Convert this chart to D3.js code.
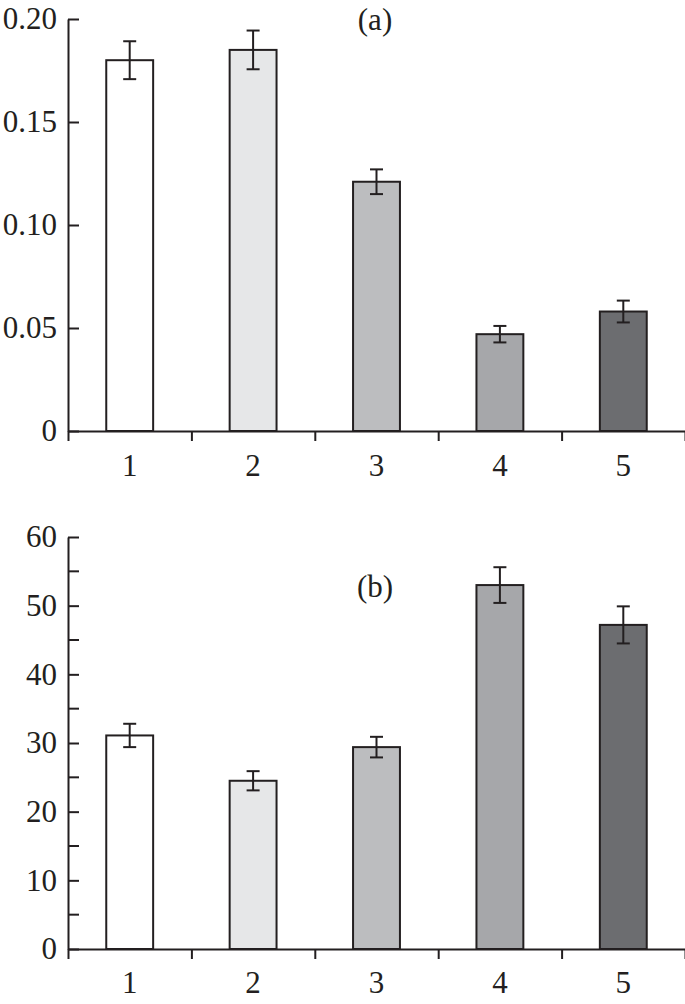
<!DOCTYPE html>
<html>
<head>
<meta charset="utf-8">
<script src="https://cdn.jsdelivr.net/npm/d3@7"></script>
<style>
  body { margin: 0; background: #fff; }
  svg { display: block; }
  text { font-family: "Liberation Serif", "Times New Roman", serif; fill: #231f20; }
</style>
</head>
<body>
<script>
var categories = ['1', '2', '3', '4', '5'];
var barColors = ['#ffffff', '#e6e7e8', '#bcbdbf', '#a6a7aa', '#6c6d70'];

var valuesA = [0.180, 0.185, 0.121, 0.047, 0.058];
var errorsA = [0.0092, 0.0094, 0.006, 0.004, 0.0053];
var ticksA = [0, 0.05, 0.10, 0.15, 0.20];

var valuesB = [31.1, 24.5, 29.4, 53.0, 47.2];
var errorsB = [1.7, 1.4, 1.5, 2.6, 2.7];
var ticksB = [0, 10, 20, 30, 40, 50, 60];
var minorTicksB = [5, 15, 25, 35, 45, 55];

var svgWidth = 685;
var svgHeight = 1004;
var ink = '#231f20';
var fontSize = 31;

var svg = d3.select('body').append('svg').attr('width', svgWidth).attr('height', svgHeight);

function drawPanel(opts) {
    var g = svg.append('g');

    var x = d3.scaleBand().domain(categories).range([68, 685])
        .paddingInner(0.62).paddingOuter(0.31);
    var xEdges = d3.scaleLinear().domain([0, categories.length]).range([68, 685]);
    var y = d3.scaleLinear().domain([0, opts.max]).range([opts.bottom, opts.top]);

    // bars
    g.selectAll('rect.bar')
        .data(opts.values)
        .enter()
        .append('rect')
        .attr('class', 'bar')
        .attr('x', function (d, i) { return x(categories[i]); })
        .attr('width', x.bandwidth())
        .attr('y', function (d) { return y(d); })
        .attr('height', function (d) { return y(0) - y(d); })
        .attr('fill', function (d, i) { return barColors[i]; })
        .attr('stroke', ink)
        .attr('stroke-width', 2);

    // error bars
    var cap = 6.5;
    var eb = g.selectAll('g.err')
        .data(opts.values)
        .enter()
        .append('g')
        .attr('class', 'err')
        .attr('stroke', ink)
        .attr('stroke-width', 2);
    eb.append('line')
        .attr('x1', function (d, i) { return x(categories[i]) + x.bandwidth() / 2; })
        .attr('x2', function (d, i) { return x(categories[i]) + x.bandwidth() / 2; })
        .attr('y1', function (d, i) { return y(d + opts.errors[i]); })
        .attr('y2', function (d, i) { return y(d - opts.errors[i]); });
    [1, -1].forEach(function (s) {
        eb.append('line')
            .attr('x1', function (d, i) { return x(categories[i]) + x.bandwidth() / 2 - cap; })
            .attr('x2', function (d, i) { return x(categories[i]) + x.bandwidth() / 2 + cap; })
            .attr('y1', function (d, i) { return y(d + s * opts.errors[i]); })
            .attr('y2', function (d, i) { return y(d + s * opts.errors[i]); });
    });

    // y axis
    var yAxis = d3.axisLeft(y)
        .tickValues(opts.ticks)
        .tickFormat(opts.format)
        .tickSizeInner(-11)
        .tickSizeOuter(0)
        .tickPadding(11);
    var ya = g.append('g').attr('transform', 'translate(68,0)').call(yAxis);
    if (opts.minor) {
        ya.selectAll('line.minor')
            .data(opts.minor)
            .enter()
            .append('line')
            .attr('class', 'minor')
            .attr('x1', 0).attr('x2', 11)
            .attr('y1', function (d) { return y(d); })
            .attr('y2', function (d) { return y(d); });
    }

    // x axis: ticks at category edges, labels at centres
    var edgeAxis = d3.axisBottom(xEdges)
        .tickValues(d3.range(0, categories.length + 1))
        .tickFormat('')
        .tickSizeInner(10)
        .tickSizeOuter(0);
    g.append('g').attr('transform', 'translate(0,' + opts.bottom + ')').call(edgeAxis);

    var labelAxis = d3.axisBottom(x).tickSize(0).tickPadding(opts.labelPad);
    var la = g.append('g').attr('transform', 'translate(0,' + opts.bottom + ')').call(labelAxis);
    la.select('.domain').remove();

    g.selectAll('.domain, .tick line, line.minor')
        .attr('stroke', ink)
        .attr('stroke-width', 2);
    g.selectAll('.tick text')
        .attr('font-size', fontSize)
        .attr('fill', ink);

    g.append('text')
        .attr('x', 375)
        .attr('y', opts.labelY)
        .attr('text-anchor', 'middle')
        .attr('font-size', fontSize)
        .text(opts.label);
}

drawPanel({
    values: valuesA, errors: errorsA, ticks: ticksA, max: 0.20,
    top: 19, bottom: 431, labelPad: 23, labelY: 30, label: '(a)',
    format: function (d) { return d === 0 ? '0' : d.toFixed(2); }
});

drawPanel({
    values: valuesB, errors: errorsB, ticks: ticksB, minor: minorTicksB, max: 60,
    top: 537, bottom: 949, labelPad: 22, labelY: 597, label: '(b)',
    format: d3.format('d')
});
</script>
</body>
</html>
